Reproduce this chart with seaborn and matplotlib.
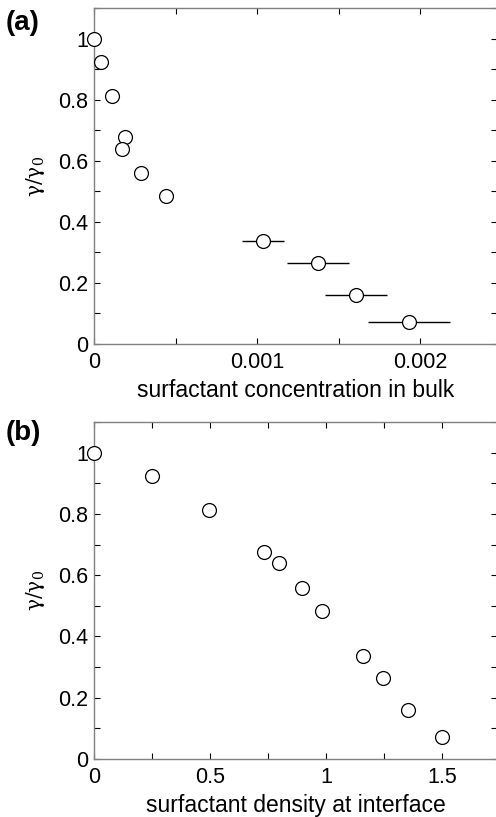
import matplotlib
matplotlib.use("Agg")
import matplotlib.pyplot as plt
import seaborn as sns
import pandas as pd
import numpy as np
from matplotlib.ticker import MultipleLocator

# Panel (a) data
conc_bulk = [0.0, 0.00004, 0.000113, 0.00019, 0.000173, 0.000285, 0.000441,
             0.001035, 0.001373, 0.001604, 0.001932]
conc_err = [0, 0, 0, 0, 0, 0, 0, 0.00013, 0.00019, 0.00019, 0.00025]
gamma_ratio = [1.0, 0.924, 0.812, 0.678, 0.639, 0.56, 0.484, 0.338, 0.266, 0.159, 0.072]

# Panel (b) data
density_interface = [0.0, 0.249, 0.495, 0.732, 0.797, 0.895, 0.98, 1.157, 1.243, 1.351, 1.5]
gamma_ratio_b = [1.0, 0.923, 0.812, 0.677, 0.639, 0.559, 0.483, 0.336, 0.266, 0.159, 0.073]

xticks_a = [0, 0.001, 0.002]
xticklabels_a = ["0", "0.001", "0.002"]
xticks_b = [0, 0.5, 1, 1.5]
xticklabels_b = ["0", "0.5", "1", "1.5"]
yticks = [0, 0.2, 0.4, 0.6, 0.8, 1.0]
yticklabels = ["0", "0.2", "0.4", "0.6", "0.8", "1"]

sns.set_style("ticks")
plt.rcParams['font.family'] = ['Liberation Sans', 'DejaVu Sans']
plt.rcParams['text.color'] = 'black'
plt.rcParams['axes.labelcolor'] = 'black'
plt.rcParams['xtick.color'] = 'black'
plt.rcParams['ytick.color'] = 'black'

W, H = 496, 817
fig = plt.figure(figsize=(W / 100, H / 100), dpi=100)

def px_axes(left, top, right, bottom):
    return fig.add_axes([left / W, 1 - bottom / H, (right - left) / W, (bottom - top) / H])

ax_a = px_axes(94, 8, 497, 344)
ax_b = px_axes(94, 422, 497, 759)

df_a = pd.DataFrame({"x": conc_bulk, "y": gamma_ratio, "err": conc_err})
df_b = pd.DataFrame({"x": density_interface, "y": gamma_ratio_b})

gray = "#808080"

ax_a.errorbar(df_a["x"], df_a["y"], xerr=df_a["err"], fmt="none", ecolor="black",
              elinewidth=1.0, capsize=0, zorder=2)
sa = sns.scatterplot(data=df_a, x="x", y="y", ax=ax_a, marker="o", s=100,
                     facecolor="white", edgecolor="black", linewidth=0.9, zorder=3)
sb = sns.scatterplot(data=df_b, x="x", y="y", ax=ax_b, marker="o", s=100,
                     facecolor="white", edgecolor="black", linewidth=0.9, zorder=3)
for ax in (ax_a, ax_b):
    for c in ax.collections:
        c.set_clip_on(False)

def style(ax, xlim, xticks, xlabels, xminor, xlabel):
    ax.set_xlim(*xlim)
    ax.set_ylim(0, 1.1)
    ax.set_xticks(xticks)
    ax.set_xticklabels(xlabels)
    ax.xaxis.set_minor_locator(MultipleLocator(xminor))
    ax.set_yticks(yticks)
    ax.set_yticklabels(yticklabels)
    ax.yaxis.set_minor_locator(MultipleLocator(0.1))
    for s in ax.spines.values():
        s.set_visible(True)
        s.set_color(gray)
        s.set_linewidth(1.0)
    ax.tick_params(which="both", direction="in", top=True, right=True,
                   color="black", width=0.8, labelsize=15.5, labelcolor="black")
    ax.tick_params(which="major", length=4)
    ax.tick_params(axis="x", which="major", pad=6)
    ax.tick_params(axis="y", which="major", pad=4)
    ax.tick_params(which="minor", length=4)
    ax.set_xlabel(xlabel, fontsize=16.5, labelpad=4, color="black")
    ax.set_ylabel(r"$\mathregular{\gamma/\gamma_0}$", fontsize=14.5, labelpad=8,
                  family="DejaVu Serif", color="black")
    ax.grid(False)

style(ax_a, (0, 0.00247), xticks_a, xticklabels_a, 0.0005, "surfactant concentration in bulk")
style(ax_b, (0, 1.735), xticks_b, xticklabels_b, 0.25, "surfactant density at interface")

fig.text(6 / W, 1 - 23 / H, "(a)", fontsize=20, fontweight="bold", va="center", ha="left")
fig.text(6 / W, 1 - 433 / H, "(b)", fontsize=20, fontweight="bold", va="center", ha="left")

fig.savefig("out.png", dpi=100)
